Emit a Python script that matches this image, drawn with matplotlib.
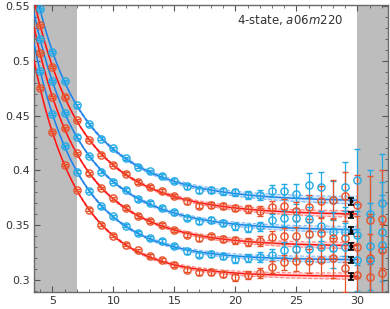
import numpy as np
import matplotlib
matplotlib.use('Agg')
import matplotlib.pyplot as plt
from matplotlib.ticker import MultipleLocator

# ---- data ----
t = list(range(4, 33))

blue1 = [0.547, 0.508, 0.4816, 0.4594, 0.442, 0.4287, 0.420, 0.411, 0.4034, 0.3989,
         0.3949, 0.3906, 0.3852, 0.3815, 0.3821, 0.3806, 0.3797, 0.3776, 0.3776, 0.3806,
         0.3806, 0.3782, 0.3867, 0.3846, 0.3724, 0.3851, 0.3912, 0.360, 0.370]
red2 = [0.5327, 0.4946, 0.4673, 0.446, 0.4277, 0.4141, 0.4049, 0.3967, 0.3891, 0.3846,
        0.3812, 0.3767, 0.3715, 0.3675, 0.3684, 0.3675, 0.3654, 0.3645, 0.363, 0.3663,
        0.3669, 0.3623, 0.3663, 0.3715, 0.373, 0.376, 0.368, 0.3547, 0.3554]
blue3 = [0.5196, 0.4816, 0.4526, 0.4307, 0.4131, 0.3988, 0.3897, 0.3821, 0.3739, 0.370,
         0.3654, 0.3614, 0.3563, 0.3532, 0.3548, 0.3517, 0.3487, 0.3475, 0.3486, 0.3547,
         0.3563, 0.3563, 0.3556, 0.349, 0.344, 0.344, 0.341, 0.3304, 0.344]
red4 = [0.5068, 0.4667, 0.4384, 0.4156, 0.3973, 0.3837, 0.3745, 0.3654, 0.3584, 0.3538,
        0.3502, 0.3456, 0.3411, 0.338, 0.3395, 0.3374, 0.3359, 0.3345, 0.335, 0.339,
        0.340, 0.3395, 0.342, 0.3426, 0.338, 0.338, 0.330, 0.3198, 0.3274]
blue5 = [0.491, 0.4512, 0.4225, 0.3988, 0.3812, 0.3669, 0.3578, 0.3493, 0.3426, 0.338,
         0.335, 0.331, 0.3259, 0.3228, 0.3237, 0.3219, 0.3186, 0.3195, 0.3205, 0.3228,
         0.3274, 0.328, 0.328, 0.3297, 0.329, 0.330, 0.318, 0.318, 0.332]
red6 = [0.475, 0.4348, 0.4049, 0.3821, 0.3639, 0.3502, 0.3401, 0.3319, 0.3268, 0.3213,
        0.3183, 0.3137, 0.3091, 0.3067, 0.3067, 0.3055, 0.3020, 0.3045, 0.306, 0.312,
        0.3158, 0.3167, 0.3167, 0.318, 0.3198, 0.3107, 0.3046, 0.302, 0.306]

err = [0.001, 0.001, 0.001, 0.0012, 0.0012, 0.0013, 0.0014, 0.0015, 0.0016, 0.0017,
       0.0018, 0.002, 0.0022, 0.0024, 0.0026, 0.0028, 0.003, 0.0035, 0.0045, 0.0055,
       0.007, 0.009, 0.011, 0.014, 0.018, 0.022, 0.028, 0.040, 0.045]

plateau = [0.3715, 0.359, 0.3449, 0.3304, 0.318, 0.303]
plateau_err = [0.0035, 0.003, 0.003, 0.003, 0.003, 0.003]
t_plateau = 29.5

series = [blue1, red2, blue3, red4, blue5, red6]
kinds = ['b', 'r', 'b', 'r', 'b', 'r']

excl_left = (3.5, 7.0)
excl_right = (30.0, 32.5)

# ---- styles ----
mcol = {'r': '#e8522a', 'b': '#22aae6'}
lcol = {'r': '#ff1414', 'b': '#1f80e8'}
bcol = {'r': '#ff8a8a', 'b': '#86bdf5'}

plt.rcParams['font.family'] = ['DejaVu Sans']
plt.rcParams['mathtext.fontset'] = 'dejavusans'

fig = plt.figure(figsize=(3.9, 3.09), dpi=100)
ax = fig.add_axes([34/390, 1-291.7/309, 354/390, 286.7/309])

ax.axvspan(*excl_left, color='#bdbdbd', lw=0, zorder=0)
ax.axvspan(*excl_right, color='#bdbdbd', lw=0, zorder=0)

tt = np.array(t, dtype=float)
ee = np.array(err)


def fit(yy, e0):
    m = tt <= 29
    best = None
    for d1 in np.linspace(0.05, 0.8, 61):
        for d2 in np.linspace(0.3, 3.0, 46):
            if d2 <= d1 + 0.05:
                continue
            X = np.column_stack([np.exp(-d1*tt[m]), np.exp(-d2*tt[m])]) / ee[m, None]
            r = (yy[m] - e0) / ee[m]
            c = np.linalg.lstsq(X, r, rcond=None)[0]
            chi = np.sum((X @ c - r)**2)
            if best is None or chi < best[0]:
                best = (chi, d1, d2, c)
    _, d1, d2, c = best
    return lambda x: e0 + c[0]*np.exp(-d1*x) + c[1]*np.exp(-d2*x)


xs = np.linspace(3.5, 30.0, 300)
for ys, k, e0, pe in zip(series, kinds, plateau, plateau_err):
    yy = np.array(ys)
    f = fit(yy, e0)
    yc = f(xs)
    hw = pe * (0.15 + 0.85*(xs - 3.5)/26.5)**1.2
    ax.fill_between(xs, yc-hw, yc+hw, color=bcol[k], alpha=0.35, lw=0, zorder=1)
    ax.plot(xs, yc+hw, color=bcol[k], lw=0.9, ls=(0, (3, 1.5)), zorder=2)
    ax.plot(xs, yc-hw, color=bcol[k], lw=0.9, ls=(0, (3, 1.5)), zorder=2)
    ax.plot(xs, yc, color=lcol[k], lw=1.1, zorder=3)
    ax.errorbar(tt, yy, yerr=ee, fmt='o', ms=5.2, mfc='none', mec=mcol[k], mew=1.0,
                ecolor=mcol[k], elinewidth=0.9, capsize=2.0, capthick=0.9, zorder=4)
    ax.errorbar([t_plateau], [e0], yerr=[pe], fmt='o', ms=1.8, color='black',
                elinewidth=1.3, capsize=2.2, capthick=1.2, zorder=5)

ax.set_xlim(3.5, 32.5)
ax.set_ylim(0.289, 0.551)
ax.xaxis.set_major_locator(MultipleLocator(5))
ax.xaxis.set_minor_locator(MultipleLocator(1))
ax.yaxis.set_major_locator(MultipleLocator(0.05))
ax.yaxis.set_minor_locator(MultipleLocator(0.01))
ax.set_yticks([0.3, 0.35, 0.4, 0.45, 0.5, 0.55])
ax.set_yticklabels(['0.3', '0.35', '0.4', '0.45', '0.5', '0.55'])
ax.tick_params(which='both', direction='in', top=True, right=True, colors='#555555',
               labelcolor='#333333', labelsize=8)
ax.tick_params(which='major', length=4.5, width=0.8, pad=3)
ax.tick_params(which='minor', length=2.5, width=0.6)
for s in ax.spines.values():
    s.set_color('#6a6a6a')
    s.set_linewidth(1.0)

ax.text(0.873, 0.972, r'4-state, $a06m220$', transform=ax.transAxes, ha='right', va='top',
        fontsize=8.5, color='#333333')

fig.savefig('out.png', dpi=100)
